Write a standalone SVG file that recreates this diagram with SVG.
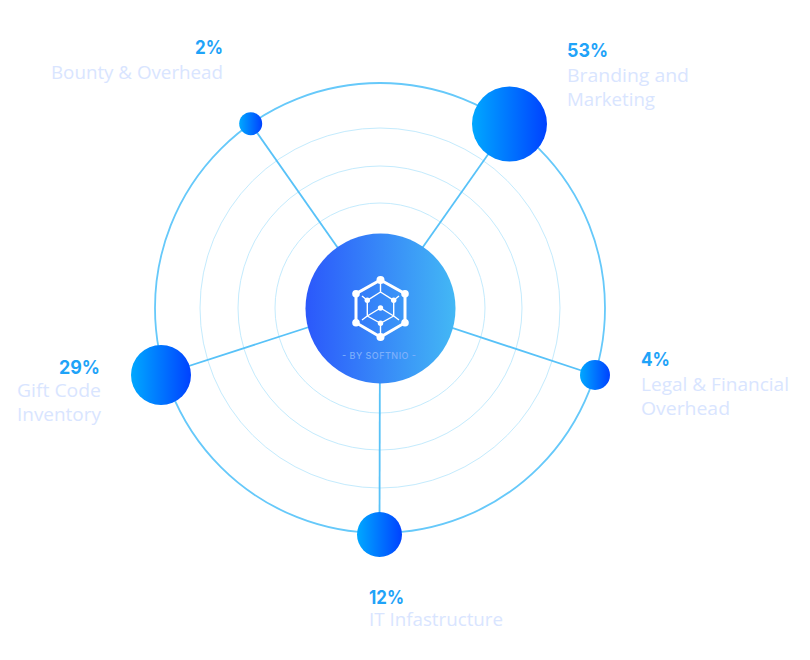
<svg xmlns="http://www.w3.org/2000/svg" width="810" height="660" viewBox="0 0 810 660">
<defs>
<linearGradient id="hub"><stop offset="0" stop-color="#2b58fb"/><stop offset="1" stop-color="#43b8f5"/></linearGradient>
<linearGradient id="dot"><stop offset="0" stop-color="#00a8ff"/><stop offset="1" stop-color="#0042ff"/></linearGradient>
</defs>
<style>
.ring{fill:none;stroke:#c4ebfd;stroke-width:1}
.outer{fill:none;stroke:#66c9fa;stroke-width:1.8}
.conn{stroke:#58c2f8;stroke-width:1.8;fill:none}
.node{fill:url(#dot)}
.pct{font-family:"Inter","Liberation Sans",sans-serif;font-weight:700;font-size:19px;fill:#1fa3f8}
.lab{font-family:"Open Sans","Liberation Sans",sans-serif;font-size:18px;fill:#d9e5ff}
.ic{stroke:#fff;fill:none}
.icd{fill:#fff}
</style>
<g id="rings">
<circle class="outer" cx="380" cy="308" r="225"/>
<circle class="ring" cx="380" cy="308" r="180"/>
<circle class="ring" cx="380" cy="308" r="142"/>
<circle class="ring" cx="380" cy="308" r="105"/>
</g>
<g id="connectors">
<line class="conn" x1="380" y1="308" x2="509.5" y2="124"/>
<line class="conn" x1="380" y1="308" x2="250.7" y2="123.7"/>
<line class="conn" x1="380" y1="304" x2="161" y2="375"/>
<line class="conn" x1="380" y1="304" x2="595" y2="375"/>
<line class="conn" x1="380" y1="308" x2="379.5" y2="534"/>
</g>
<g id="hub">
<circle cx="380.5" cy="308.5" r="75" fill="url(#hub)"/>
<g class="ic" stroke-width="3"><polygon points="380.5,280 405,293.7 405,322.7 380.5,337 356,322.7 356,293.7"/></g>
<g class="ic" stroke-width="1.4">
<path d="M380.5 280V292M380.5 292L367.3 300.3M380.5 292L393.7 300.3M367.3 300.3L362 296M393.7 300.3L399 296M367.3 300.3V316M393.7 300.3V316M367.3 316L380.5 308L393.7 316M367.3 316L380.5 323.3L393.7 316M362 320L367.3 316M399 320L393.7 316M380.5 323.3V337"/>
</g>
<g class="icd">
<circle cx="380.5" cy="280" r="4"/><circle cx="405" cy="293.7" r="3.8"/><circle cx="405" cy="322.7" r="3.8"/><circle cx="380.5" cy="337" r="4"/><circle cx="356" cy="322.7" r="3.8"/><circle cx="356" cy="293.7" r="3.8"/>
<circle cx="367.3" cy="300.3" r="2.7"/><circle cx="393.7" cy="300.3" r="2.7"/><circle cx="380.5" cy="308" r="2.7"/><circle cx="380.5" cy="323.3" r="2.7"/>
</g>
<text x="342" y="359" textLength="74" lengthAdjust="spacing" font-family="Inter,'Liberation Sans',sans-serif" font-weight="500" font-size="9" fill="#7eb0fb">- BY SOFTNIO -</text>
</g>
<g id="n53"><circle class="node" cx="509.5" cy="124" r="37.5"/><text class="pct" x="567" y="57" textLength="41" lengthAdjust="spacingAndGlyphs">53%</text><text class="lab" x="567" y="82" textLength="122" lengthAdjust="spacingAndGlyphs">Branding and</text><text class="lab" x="567" y="106" textLength="88" lengthAdjust="spacingAndGlyphs">Marketing</text></g>
<g id="n2"><circle class="node" cx="250.7" cy="123.7" r="11.5"/><text class="pct" x="195" y="54" textLength="28" lengthAdjust="spacingAndGlyphs">2%</text><text class="lab" x="51" y="79" textLength="172" lengthAdjust="spacingAndGlyphs">Bounty &amp; Overhead</text></g>
<g id="n29"><circle class="node" cx="161" cy="375" r="30"/><text class="pct" x="59" y="374" textLength="41" lengthAdjust="spacingAndGlyphs">29%</text><text class="lab" x="17" y="397" textLength="84" lengthAdjust="spacingAndGlyphs">Gift Code</text><text class="lab" x="17" y="421" textLength="84" lengthAdjust="spacingAndGlyphs">Inventory</text></g>
<g id="n4"><circle class="node" cx="595" cy="375" r="15"/><text class="pct" x="641" y="366" textLength="29" lengthAdjust="spacingAndGlyphs">4%</text><text class="lab" x="641" y="391" textLength="148" lengthAdjust="spacingAndGlyphs">Legal &amp; Financial</text><text class="lab" x="641" y="415" textLength="89" lengthAdjust="spacingAndGlyphs">Overhead</text></g>
<g id="n12"><circle class="node" cx="379.5" cy="534.5" r="22.5"/><text class="pct" x="369" y="604" textLength="35" lengthAdjust="spacingAndGlyphs">12%</text><text class="lab" x="369" y="626" textLength="134" lengthAdjust="spacingAndGlyphs">IT Infastructure</text></g>
</svg>
